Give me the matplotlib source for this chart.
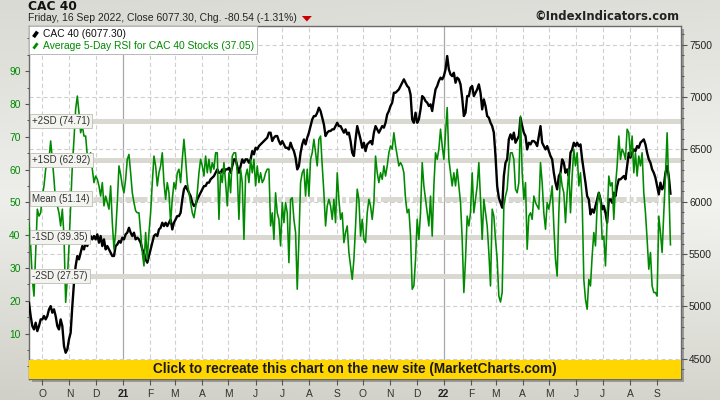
import numpy as np
import pandas as pd
import matplotlib
matplotlib.use('Agg')
import matplotlib.pyplot as plt
import matplotlib.transforms as mtrans
from matplotlib.lines import Line2D
from matplotlib.patches import Rectangle, Polygon
from matplotlib.legend_handler import HandlerBase
from matplotlib.ticker import MultipleLocator, FixedLocator

plt.rcParams['font.family'] = ['Liberation Sans', 'DejaVu Sans']
plt.rcParams['lines.scale_dashes'] = False

# ---------------- data ----------------
start_date = '2020-09-16'
end_date = '2022-09-16'
xlim_start = '2020-09-16'
xlim_end = '2022-09-27 16:00'

cac = [
    5034, 4907, 4811, 4779, 4843, 4763, 4811, 4875, 4875, 4907,
    4875, 4907, 4971, 5002, 4939, 4971, 4907, 4811, 4779, 4875,
    4811, 4620, 4556, 4588, 4684, 4748, 5002, 5226, 5385, 5481,
    5449, 5512, 5576, 5544, 5608, 5576, 5640, 5672, 5640, 5672,
    5640, 5688, 5608, 5672, 5576, 5640, 5544, 5576, 5544, 5512,
    5481, 5481, 5576, 5592, 5624, 5608, 5656, 5640, 5688, 5704,
    5751, 5704, 5672, 5704, 5640, 5656,
    5640, 5608, 5544, 5512, 5449, 5417, 5481, 5544, 5608, 5672,
    5688, 5672, 5735, 5751, 5799, 5767, 5799, 5767, 5799, 5831,
    5735, 5799, 5831, 5863, 5863, 5895, 6022, 6118, 6150, 6118,
    6086, 6054, 5990, 5959, 5975, 6022, 6054, 6086, 6118, 6150,
    6150, 6182, 6182, 6214, 6229, 6245, 6277, 6309, 6277, 6277,
    6309, 6277, 6309, 6309, 6325, 6277, 6341, 6405, 6405, 6341,
    6277, 6341, 6405, 6373, 6405, 6405,
    6373, 6405, 6484, 6453, 6516, 6500, 6532, 6548, 6564, 6580,
    6596, 6612, 6660, 6660, 6580, 6612, 6628, 6628, 6580, 6548,
    6580, 6548, 6516, 6516, 6500, 6564, 6516, 6484, 6421, 6309,
    6341, 6468, 6548, 6596, 6548, 6612, 6660, 6723, 6787, 6819,
    6819, 6851, 6899, 6867, 6803, 6739, 6628, 6660, 6676, 6676,
    6692, 6692, 6723, 6755, 6723, 6723, 6692, 6660, 6692, 6644,
    6660, 6580, 6468, 6437, 6596, 6723,
    6660, 6596, 6516, 6564, 6484, 6548, 6564, 6580, 6548, 6660,
    6723, 6692, 6660, 6692, 6723, 6708, 6755, 6835, 6867, 6915,
    6947, 7042, 7042, 7058, 7074, 7106, 7138, 7170, 7138, 7106,
    7090, 7026, 6787, 6755, 6851, 6755, 6787, 6883, 7010, 6994,
    6962, 6947, 6915, 6931, 6867, 6978, 7074, 7106, 7154, 7186,
    7170, 7201, 7265, 7393, 7265, 7217, 7201, 7233, 7138, 7186,
    7170, 7122, 6994, 6819, 6851, 7010,
    7010, 7090, 7106, 7010, 7042, 7074, 7122, 7042, 6883, 6978,
    6915, 6819, 6803, 6755, 6723, 6660, 6437, 6150, 6038, 5990,
    5943, 6245, 6373, 6405, 6596, 6644, 6596, 6660, 6564, 6596,
    6628, 6803, 6723, 6660, 6628, 6500, 6564, 6548, 6580, 6580,
    6564, 6532, 6628, 6723, 6564, 6532, 6500, 6532, 6484, 6437,
    6405, 6277, 6182, 6118, 6245, 6277, 6405, 6373, 6277, 6309,
    6245, 6468, 6500, 6564, 6532, 6564,
    6532, 6548, 6405, 6293, 6182, 6054, 6022, 5879, 5927, 5895,
    5959, 6022, 6086, 6022, 5927, 5959, 5895, 5799, 6022, 6022,
    5990, 6086, 6054, 6150, 6214, 6214, 6229, 6245, 6214, 6341,
    6468, 6421, 6468, 6500, 6484, 6532, 6516, 6564, 6580, 6596,
    6548, 6468, 6405, 6373, 6309, 6277, 6229, 6150, 6070, 6182,
    6118, 6150, 6277, 6341, 6245, 6077.30,
]

rsi = [
    43.8, 36.7, 26.5, 21.4, 34.7, 47.9, 45.8, 46.8, 51.9, 55.0,
    60.1, 62.1, 63.1, 68.7, 63.1, 57.0, 49.9, 48.9, 46.8, 42.8,
    47.9, 39.7, 19.5, 26.5, 36.7, 48.9, 61.1, 69.2, 78.4, 82.4,
    77.3, 71.2, 73.3, 70.2, 70.2, 64.1, 64.1, 65.1, 60.1, 56.0,
    58.0, 57.0, 55.0, 51.9, 56.0, 48.9, 51.9, 49.9, 47.9, 55.0,
    43.8, 35.7, 40.8, 49.9, 61.1, 58.5, 55.0, 52.9, 57.0, 63.1,
    64.6, 59.0, 52.9, 49.9, 47.4, 46.8,
    46.8, 40.8, 34.7, 30.6, 40.8, 32.6, 40.8, 46.8, 56.0, 64.1,
    61.1, 55.0, 59.0, 61.1, 65.1, 56.0, 50.9, 56.0, 52.9, 43.8,
    50.9, 56.0, 54.0, 59.0, 60.1, 56.0, 63.1, 69.2, 63.1, 56.0,
    52.9, 49.9, 46.8, 45.3, 48.4, 52.9, 59.0, 63.1, 61.1, 58.0,
    64.1, 59.0, 63.1, 59.0, 62.1, 60.1, 65.1, 65.1, 44.8, 59.0,
    56.0, 62.1, 56.0, 48.9, 59.0, 52.9, 64.1, 65.1, 65.1, 59.0,
    44.8, 60.1, 56.0, 38.7, 58.0, 60.1,
    56.0, 63.1, 59.0, 63.1, 55.0, 61.1, 56.0, 59.0, 56.0, 57.0,
    59.0, 60.1, 60.1, 42.8, 46.8, 38.7, 52.9, 46.8, 44.8, 36.7,
    49.9, 43.8, 49.9, 46.8, 31.6, 50.9, 51.4, 44.8, 40.8, 23.5,
    38.7, 56.0, 59.0, 60.1, 51.9, 60.1, 51.9, 63.1, 65.1, 69.2,
    65.1, 61.1, 69.2, 70.2, 61.1, 52.9, 42.8, 48.9, 50.9, 48.9,
    44.8, 50.9, 43.8, 59.0, 50.9, 44.8, 46.8, 37.7, 40.8, 42.8,
    34.7, 30.6, 26.5, 32.6, 42.8, 54.0,
    50.9, 39.7, 44.8, 38.7, 37.7, 46.8, 50.9, 48.9, 44.8, 49.9,
    64.1, 59.0, 56.0, 59.0, 57.0, 61.1, 58.0, 61.1, 65.1, 67.2,
    66.2, 71.2, 67.2, 64.1, 61.1, 62.1, 61.1, 59.0, 50.9, 46.8,
    47.9, 39.7, 23.5, 24.5, 32.6, 44.8, 38.7, 46.8, 62.1, 55.0,
    50.9, 46.8, 42.8, 51.9, 39.7, 55.0, 65.1, 63.1, 66.2, 72.3,
    67.2, 63.1, 71.2, 78.9, 63.1, 59.0, 55.0, 59.0, 55.0, 60.1,
    55.0, 49.9, 38.7, 22.5, 32.6, 45.8,
    42.8, 46.8, 59.0, 46.8, 50.9, 55.0, 62.1, 50.9, 38.7, 50.9,
    46.8, 42.8, 34.7, 24.5, 47.9, 45.8, 38.7, 32.6, 21.4, 19.6,
    22.5, 48.9, 51.9, 54.0, 61.1, 65.1, 65.1, 63.1, 54.0, 52.9,
    56.0, 76.3, 59.0, 50.9, 56.0, 35.7, 45.8, 46.8, 44.8, 51.9,
    49.9, 48.9, 47.9, 62.1, 56.0, 46.8, 41.8, 49.9, 47.9, 50.9,
    55.0, 42.8, 32.6, 27.5, 46.8, 59.0, 55.0, 52.9, 43.8, 52.9,
    60.1, 46.8, 58.0, 66.2, 61.1, 65.1,
    55.0, 59.0, 50.9, 26.5, 20.4, 17.4, 26.5, 24.5, 33.6, 40.8,
    36.7, 48.9, 52.9, 50.9, 38.7, 39.7, 30.6, 44.8, 58.0, 55.0,
    56.0, 44.8, 55.0, 61.1, 70.2, 63.1, 66.2, 65.1, 63.1, 72.3,
    71.2, 64.1, 70.2, 59.0, 65.1, 58.0, 64.1, 61.1, 65.1, 52.9,
    46.8, 38.7, 29.6, 34.7, 24.5, 22.5, 22.5, 21.4, 45.8, 40.8,
    34.7, 46.8, 58.0, 71.2, 55.0, 37.05,
]

sd_names = ['+2SD', '+1SD', 'Mean', '-1SD', '-2SD']
sd_levels = [74.71, 62.92, 51.14, 39.35, 27.57]
rsi_ticks = [10, 20, 30, 40, 50, 60, 70, 80, 90]
cac_ticks = [4500, 5000, 5500, 6000, 6500, 7000, 7500]
rsi_lim = (-3.87, 103.75)
cac_lim = (4305, 7680)

title = 'CAC 40'
day_label = 'Friday, 16 Sep 2022'
last_close = 6077.30
change = -80.54
pct_change = -1.31
last_rsi = 37.05
cac_name = 'CAC 40'
rsi_name = 'Average 5-Day RSI for CAC 40 Stocks'
copyright_text = '\u00a9IndexIndicators.com'
banner_text = 'Click to recreate this chart on the new site (MarketCharts.com)'

dates = pd.date_range(start_date, end_date, periods=len(cac))
month_starts = pd.date_range('2020-10-01', '2022-09-01', freq='MS')
month_labels = [f"{d.year % 100}" if d.month == 1 else d.strftime('%b')[0] for d in month_starts]

# ---------------- figure ----------------
W, H = 720, 400
fig = plt.figure(figsize=(W / 100, H / 100), dpi=100)

# background gradient
bg = fig.add_axes([0, 0, 1, 1], zorder=-10)
ny, nx = 200, 200
yy = np.linspace(0, 1, ny)[:, None]
xx = np.linspace(0, 1, nx)[None, :]
top = np.array([218, 218, 212]) / 255
mid = np.array([238, 238, 235]) / 255
bot = np.array([208, 208, 200]) / 255
t = yy
col = np.where(t[..., None] < 0.5,
               top + (mid - top) * (t[..., None] / 0.5),
               mid + (bot - mid) * ((t[..., None] - 0.5) / 0.5))
col = col + 0.02 * xx[..., None]
col = np.clip(np.broadcast_to(col, (ny, nx, 3)), 0, 1)
bg.imshow(col, extent=[0, 1, 0, 1], aspect='auto', origin='upper')
bg.axis('off')

L, R, T, B = 29, 680.7, 26, 379
ax_rect = [L / W, 1 - B / H, (R - L) / W, (B - T) / H]

# shadow
shadow = Rectangle((ax_rect[0] + 3 / W, ax_rect[1] - 3 / H), ax_rect[2], ax_rect[3],
                   transform=fig.transFigure, facecolor='#9a9a96', edgecolor='none', zorder=-5)
fig.add_artist(shadow)

ax_c = fig.add_axes(ax_rect)
ax_c.set_facecolor('white')
ax_r = ax_c.twinx()

ax_c.set_xlim(pd.Timestamp(xlim_start), pd.Timestamp(xlim_end))
ax_c.set_ylim(*cac_lim)
ax_r.set_ylim(*rsi_lim)

# grid
for d in month_starts:
    if d.month == 1:
        ax_c.axvline(d, color='#a8a8a8', lw=0.9, zorder=1)
    else:
        ax_c.axvline(d, color='#cfcfcf', lw=0.8, dashes=(3, 2), zorder=1)
for v in cac_ticks:
    ax_c.axhline(v, color='#cfcfcf', lw=0.8, dashes=(3, 2), zorder=1)

# SD bands (drawn under both series)
band_tr = mtrans.blended_transform_factory(ax_c.transAxes, ax_r.transData)
for name, lvl in zip(sd_names, sd_levels):
    ln, = ax_c.plot([0, 1], [lvl, lvl], transform=band_tr, color='#d9d9d1', lw=3.6,
                    solid_capstyle='butt', zorder=2)
    if name == 'Mean':
        ln.set_dashes((16, 2, 3, 2))

# series
ax_c.plot(dates, cac, color='black', lw=1.7, zorder=3, solid_joinstyle='round')
ax_r.plot(dates, rsi, color='#008a00', lw=1.15, zorder=3, solid_joinstyle='round')

# SD labels
lab_tr = mtrans.blended_transform_factory(ax_r.transAxes, ax_r.transData)
for name, lvl in zip(sd_names, sd_levels):
    ax_r.text(0.005, lvl, f'{name} ({lvl:.2f})', transform=lab_tr, ha='left', va='center',
              fontsize=7, color='#333333', zorder=6,
              bbox=dict(boxstyle='square,pad=0.22', facecolor='#f3f3ef', edgecolor='#bdbdb5', lw=0.6))

# banner
ban_h = (B - 360) / (B - T)
ax_r.add_patch(Rectangle((0, 0), 1, ban_h, transform=ax_r.transAxes, facecolor='#ffd600',
                         edgecolor='none', zorder=7))
ax_r.text(0.5, ban_h / 2, banner_text, transform=ax_r.transAxes, ha='center', va='center',
          fontsize=9.8, fontweight='bold', color='#1a1a1a', zorder=8)

# axes styling
for ax in (ax_c, ax_r):
    for s in ax.spines.values():
        s.set_visible(False)
for s in ('left', 'right', 'top', 'bottom'):
    ax_c.spines[s].set_visible(True)
    ax_c.spines[s].set_color('#6a6a6a')
    ax_c.spines[s].set_linewidth(1.0)

ax_c.yaxis.tick_right()
ax_r.yaxis.tick_left()
ax_c.yaxis.set_major_locator(FixedLocator(cac_ticks))
ax_c.yaxis.set_minor_locator(MultipleLocator(100))
ax_c.set_yticklabels([str(v) for v in cac_ticks])
ax_c.tick_params(axis='y', which='major', direction='out', length=4, width=0.8, color='#555555',
                 labelsize=7.4, labelcolor='#222222', pad=2, right=True, left=False,
                 labelright=True, labelleft=False)
ax_c.tick_params(axis='y', which='minor', direction='out', length=1.8, width=0.7, color='#555555',
                 right=True, left=False)

ax_r.yaxis.set_major_locator(FixedLocator(rsi_ticks))
ax_r.yaxis.set_minor_locator(MultipleLocator(5))
ax_r.set_yticklabels([str(v) for v in rsi_ticks])
ax_r.tick_params(axis='y', which='major', direction='out', length=3, width=0.8, color='#555555',
                 labelsize=7.4, labelcolor='#008a00', pad=3, left=True, right=False,
                 labelleft=True, labelright=False)
ax_r.tick_params(axis='y', which='minor', direction='out', length=1.8, width=0.7, color='#555555',
                 left=True, right=False)

ax_c.set_xticks(month_starts)
ax_c.set_xticklabels(month_labels)
ax_c.tick_params(axis='x', direction='out', length=4, width=0.8, color='#555555', labelsize=7.4,
                 labelcolor='#333333', pad=3)
for d, tl in zip(month_starts, ax_c.get_xticklabels()):
    if d.month == 1:
        tl.set_fontweight('bold')
        tl.set_color('#222222')
ax_r.tick_params(axis='x', which='both', bottom=False, top=False, labelbottom=False)


# legend with slanted icons
class SlashHandler(HandlerBase):
    def create_artists(self, legend, orig_handle, xdescent, ydescent, width, height, fontsize, trans):
        x0 = -xdescent + width * 0.2
        x1 = -xdescent + width * 0.75
        y0 = -ydescent + height * 0.0
        y1 = -ydescent + height * 0.75
        ln = Line2D([x0, x1], [y0, y1], color=orig_handle.get_color(),
                    lw=orig_handle.get_linewidth(), solid_capstyle='butt')
        ln.set_transform(trans)
        return [ln]


handles = [Line2D([], [], color='black', lw=2.6), Line2D([], [], color='#008a00', lw=2.0)]
labels = [f'{cac_name} ({last_close:.2f})', f'{rsi_name} ({last_rsi:.2f})']
leg = ax_r.legend(handles, labels, loc='upper left', bbox_to_anchor=(0, 1), borderaxespad=0,
                  frameon=True, fancybox=False, edgecolor='#b8b8b8', framealpha=1,
                  fontsize=7.4, handler_map={Line2D: SlashHandler()}, handlelength=0.7,
                  handletextpad=0.35, borderpad=0.3, labelspacing=0.15)
leg.get_frame().set_linewidth(0.7)
leg.get_texts()[0].set_color('#111111')
leg.get_texts()[1].set_color('#008a00')
leg.set_zorder(10)

# titles
fig.text(28 / W, 1 - 6.7 / H, title, fontsize=8.8, fontweight='bold', family='DejaVu Sans',
         ha='left', va='center', color='#111111')
sub = fig.text(28 / W, 1 - 18.3 / H,
               f'{day_label}, Close {last_close:.2f}, Chg. {change:.2f} ({pct_change:.2f}%)',
               fontsize=7.5, ha='left', va='center', color='#222222')
fig.text(679 / W, 1 - 17 / H, copyright_text, fontsize=8.4, fontweight='bold', family='DejaVu Sans',
         ha='right', va='center', color='#222222')

fig.canvas.draw()
bb = sub.get_window_extent()
px = bb.x1 + 5
py = H - 18.5
tri = Polygon([[px / W, (py + 2.5) / H], [(px + 10) / W, (py + 2.5) / H], [(px + 5) / W, (py - 3) / H]],
              closed=True, transform=fig.transFigure, facecolor='#cc0000', edgecolor='none')
fig.add_artist(tri)

fig.savefig('out.png', dpi=100)
